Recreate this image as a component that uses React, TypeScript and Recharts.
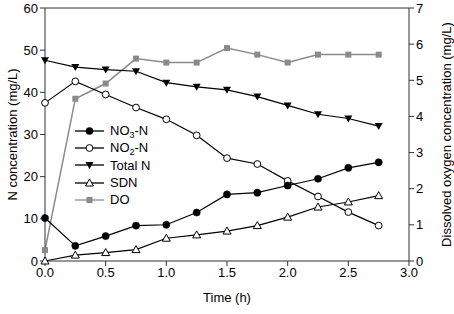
import React from 'react'
import {
  ComposedChart,
  Line,
  XAxis,
  YAxis,
  ReferenceLine,
} from 'recharts'

const time = [0, 0.25, 0.5, 0.75, 1.0, 1.25, 1.5, 1.75, 2.0, 2.25, 2.5, 2.75]
const no3 = [10.2, 3.6, 5.9, 8.4, 8.6, 11.5, 15.8, 16.2, 17.9, 19.5, 22.1, 23.4]
const no2 = [37.5, 42.6, 39.5, 36.4, 33.6, 29.8, 24.4, 23.0, 19.0, 15.3, 11.6, 8.4]
const totalN = [47.6, 46.0, 45.4, 45.0, 42.3, 41.3, 40.6, 39.0, 36.9, 34.8, 33.8, 32.0]
const sdn = [0, 1.4, 2.0, 2.7, 5.4, 6.2, 7.1, 8.4, 10.4, 12.8, 14.0, 15.5]
const dissolvedO2 = [0.3, 4.49, 4.91, 5.6, 5.49, 5.49, 5.89, 5.71, 5.49, 5.71, 5.71, 5.71]

const xTicks = [0, 0.5, 1.0, 1.5, 2.0, 2.5, 3.0]
const leftTicks = [0, 10, 20, 30, 40, 50, 60]
const rightTicks = [0, 1, 2, 3, 4, 5, 6, 7]

const data = time.map((t, i) => ({
  t,
  no3: no3[i],
  no2: no2[i],
  totalN: totalN[i],
  sdn: sdn[i],
  dO: dissolvedO2[i],
}))

const FONT = '"Liberation Sans", Arial, sans-serif'
const AXIS = '#333'
const GREY = '#8a8a8a'

type Kind = 'filled' | 'open' | 'down' | 'up' | 'square'

function Marker({ kind, cx, cy }: { kind: Kind; cx: number; cy: number }) {
  if (kind === 'filled') return <circle cx={cx} cy={cy} r={3.6} fill="#000" stroke="#000" strokeWidth={0.5} />
  if (kind === 'open') return <circle cx={cx} cy={cy} r={3.4} fill="#fff" stroke="#000" strokeWidth={1} />
  if (kind === 'down')
    return (
      <polygon
        points={`${cx - 4},${cy - 3} ${cx + 4},${cy - 3} ${cx},${cy + 4}`}
        fill="#000"
      />
    )
  if (kind === 'up')
    return (
      <polygon
        points={`${cx},${cy - 4} ${cx - 4},${cy + 3} ${cx + 4},${cy + 3}`}
        fill="#fff"
        stroke="#000"
        strokeWidth={1}
      />
    )
  return <rect x={cx - 3} y={cy - 3} width={6} height={6} fill={GREY} />
}

const dotOf = (kind: Kind) => (props: any) =>
  <Marker key={`${kind}-${props.index}`} kind={kind} cx={props.cx} cy={props.cy} />

const legendItems: { kind: Kind; color: string; label: React.ReactNode }[] = [
  { kind: 'filled', color: '#000', label: <>NO<sub>3</sub>-N</> },
  { kind: 'open', color: '#000', label: <>NO<sub>2</sub>-N</> },
  { kind: 'down', color: '#000', label: 'Total N' },
  { kind: 'up', color: '#000', label: 'SDN' },
  { kind: 'square', color: GREY, label: 'DO' },
]

function LegendBox() {
  return (
    <div style={{ position: 'absolute', left: 75, top: 122, fontFamily: FONT, fontSize: 13, color: '#000' }}>
      {legendItems.map((it, i) => (
        <div key={i} style={{ display: 'flex', alignItems: 'center', height: 17.3 }}>
          <svg width={29} height={12} style={{ marginRight: 6 }}>
            <line x1={0} y1={6} x2={29} y2={6} stroke={it.color} strokeWidth={1.3} />
            <Marker kind={it.kind} cx={14.5} cy={6} />
          </svg>
          <span style={{ lineHeight: '13px' }}>{it.label}</span>
        </div>
      ))}
    </div>
  )
}

const tickStyle = { fontSize: 13, fill: '#000', fontFamily: FONT }

export default function App() {
  return (
    <div style={{ position: 'absolute', left: 0, top: 0, width: 454, height: 314, background: '#fff' }}>
      <style>{`sub{font-size:9px;vertical-align:-3px;line-height:0}`}</style>
      <ComposedChart width={454} height={314} data={data} margin={{ top: 8, right: 0, bottom: 0, left: 0 }}>
        <XAxis
          dataKey="t"
          type="number"
          domain={[0, 3]}
          ticks={xTicks}
          tickFormatter={(v: number) => v.toFixed(1)}
          height={53}
          stroke={AXIS}
          tickSize={5}
          tick={tickStyle}
          label={{ value: 'Time (h)', position: 'insideBottom', offset: 12, fontSize: 13, fill: '#000', fontFamily: FONT }}
        />
        <YAxis
          yAxisId="left"
          domain={[0, 60]}
          ticks={leftTicks}
          width={45}
          stroke={AXIS}
          tickSize={5}
          tick={tickStyle}
          label={{ value: 'N concentration (mg/L)', angle: -90, position: 'insideLeft', offset: 12, style: { textAnchor: 'middle' }, fontSize: 13, fill: '#000', fontFamily: FONT }}
        />
        <YAxis
          yAxisId="right"
          orientation="right"
          domain={[0, 7]}
          ticks={rightTicks}
          width={45}
          stroke={AXIS}
          tickSize={5}
          tick={tickStyle}
          label={{ value: 'Dissolved oxygen concentration (mg/L)', angle: -90, position: 'insideRight', offset: 8, style: { textAnchor: 'middle' }, fontSize: 13, fill: '#000', fontFamily: FONT }}
        />
        <ReferenceLine yAxisId="left" y={60} stroke={AXIS} />
        <Line yAxisId="right" dataKey="dO" stroke={GREY} strokeWidth={1.5} dot={dotOf('square')} isAnimationActive={false} />
        <Line yAxisId="left" dataKey="totalN" stroke="#000" strokeWidth={1.2} dot={dotOf('down')} isAnimationActive={false} />
        <Line yAxisId="left" dataKey="sdn" stroke="#000" strokeWidth={1.2} dot={dotOf('up')} isAnimationActive={false} />
        <Line yAxisId="left" dataKey="no2" stroke="#000" strokeWidth={1.2} dot={dotOf('open')} isAnimationActive={false} />
        <Line yAxisId="left" dataKey="no3" stroke="#000" strokeWidth={1.2} dot={dotOf('filled')} isAnimationActive={false} />
      </ComposedChart>
      <LegendBox />
    </div>
  )
}
